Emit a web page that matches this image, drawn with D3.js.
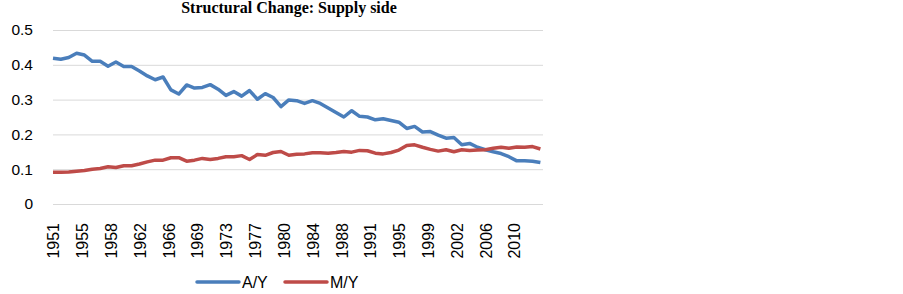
<!DOCTYPE html>
<html>
<head>
<meta charset="utf-8">
<script src="https://cdn.jsdelivr.net/npm/d3@7"></script>
<style>
  html, body { margin: 0; padding: 0; background: #fff; }
  svg { display: block; }
</style>
</head>
<body>
<svg id="chart" width="903" height="294"></svg>
<script>
const years = d3.range(1951, 2014);
const seriesNames = ["A/Y", "M/Y"];
const ayValues = [
  0.419, 0.416, 0.421, 0.433, 0.428, 0.410, 0.410, 0.396, 0.408, 0.395,
  0.395, 0.382, 0.368, 0.357, 0.365, 0.328, 0.316, 0.342, 0.333, 0.335,
  0.343, 0.330, 0.312, 0.323, 0.310, 0.326, 0.301, 0.317, 0.306, 0.280,
  0.299, 0.297, 0.289, 0.297, 0.289, 0.276, 0.263, 0.250, 0.268, 0.252,
  0.250, 0.242, 0.245, 0.240, 0.235, 0.217, 0.223, 0.207, 0.208, 0.198,
  0.189, 0.191, 0.170, 0.174, 0.163, 0.156, 0.150, 0.145, 0.136, 0.124,
  0.124, 0.123, 0.119
];
const myValues = [
  0.091, 0.091, 0.092, 0.094, 0.096, 0.100, 0.102, 0.107, 0.105, 0.110,
  0.110, 0.115, 0.121, 0.126, 0.126, 0.133, 0.133, 0.123, 0.126, 0.131,
  0.128, 0.131, 0.136, 0.136, 0.139, 0.128, 0.142, 0.140, 0.148, 0.151,
  0.140, 0.143, 0.144, 0.147, 0.147, 0.146, 0.148, 0.151, 0.149, 0.154,
  0.153, 0.146, 0.144, 0.148, 0.155, 0.168, 0.170, 0.163, 0.157, 0.152,
  0.156, 0.150, 0.156, 0.154, 0.155, 0.156, 0.160, 0.163, 0.160, 0.164,
  0.163, 0.165, 0.158
];
const xTickLabels = ["1951","1955","1958","1962","1966","1969","1973","1977","1980",
  "1984","1988","1991","1995","1999","2002","2006","2010"];
const yTicks = [0, 0.1, 0.2, 0.3, 0.4, 0.5];
const colors = ["#4a7ebb", "#be4b48"];

const svg = d3.select("#chart");
const plotLeft = 53, plotRight = 543, plotTop = 30, plotBottom = 204;
const labelStep = 11 / 3;

const x = d3.scaleLinear()
  .domain([1951, 1951 + xTickLabels.length * labelStep])
  .range([plotLeft, plotRight]);
const y = d3.scaleLinear().domain([0, 0.5]).range([plotBottom, plotTop]);

// Title
svg.append("text")
  .attr("x", 289).attr("y", 13)
  .attr("text-anchor", "middle")
  .attr("font-family", "'Liberation Serif', 'Times New Roman', serif")
  .attr("font-weight", "bold")
  .attr("font-size", "16px")
  .attr("fill", "#000")
  .text("Structural Change: Supply side");

// Y axis with gridlines
const yAxis = d3.axisLeft(y)
  .tickValues(yTicks)
  .tickSize(-(plotRight - plotLeft))
  .tickPadding(20)
  .tickFormat(d => d === 0 ? "0" : d3.format(".1f")(d));
const gy = svg.append("g").attr("transform", `translate(${plotLeft},0)`).call(yAxis);
gy.select(".domain").remove();
gy.selectAll(".tick line").attr("stroke", "#d9d9d9").attr("stroke-width", 1);
gy.selectAll(".tick text")
  .attr("font-family", "'Liberation Sans', Arial, sans-serif")
  .attr("font-size", "15.5px")
  .attr("fill", "#000")
  .attr("x", -20);

// X axis labels
const xTickVals = xTickLabels.map((_, i) => 1951 + i * labelStep);
const xAxis = d3.axisBottom(x)
  .tickValues(xTickVals)
  .tickSize(0)
  .tickFormat((d, i) => xTickLabels[i]);
const gx = svg.append("g").attr("transform", `translate(0,${plotBottom})`).call(xAxis);
gx.select(".domain").remove();
gx.selectAll(".tick text")
  .attr("font-family", "'Liberation Sans', Arial, sans-serif")
  .attr("font-size", "16px")
  .attr("fill", "#000")
  .attr("transform", "rotate(-90)")
  .attr("text-anchor", "end")
  .attr("x", -19)
  .attr("y", 0)
  .attr("dy", "0.36em");

// Lines
const line = d3.line()
  .x((d, i) => x(years[i]))
  .y(d => y(d));
[ayValues, myValues].forEach((vals, k) => {
  svg.append("path")
    .datum(vals)
    .attr("fill", "none")
    .attr("stroke", colors[k])
    .attr("stroke-width", 3.5)
    .attr("stroke-linejoin", "round")
    .attr("d", line);
});

// Legend
const legendItems = [
  { name: seriesNames[0], color: colors[0], x0: 197, x1: 239, tx: 242 },
  { name: seriesNames[1], color: colors[1], x0: 285, x1: 327, tx: 330 }
];
const lg = svg.append("g");
legendItems.forEach(it => {
  lg.append("line")
    .attr("x1", it.x0).attr("x2", it.x1)
    .attr("y1", 282).attr("y2", 282)
    .attr("stroke", it.color).attr("stroke-width", 3.5)
    .attr("stroke-linecap", "round");
  lg.append("text")
    .attr("x", it.tx).attr("y", 287.5)
    .attr("font-family", "'Liberation Sans', Arial, sans-serif")
    .attr("font-size", "16px")
    .attr("fill", "#000")
    .text(it.name);
});
</script>
</body>
</html>
